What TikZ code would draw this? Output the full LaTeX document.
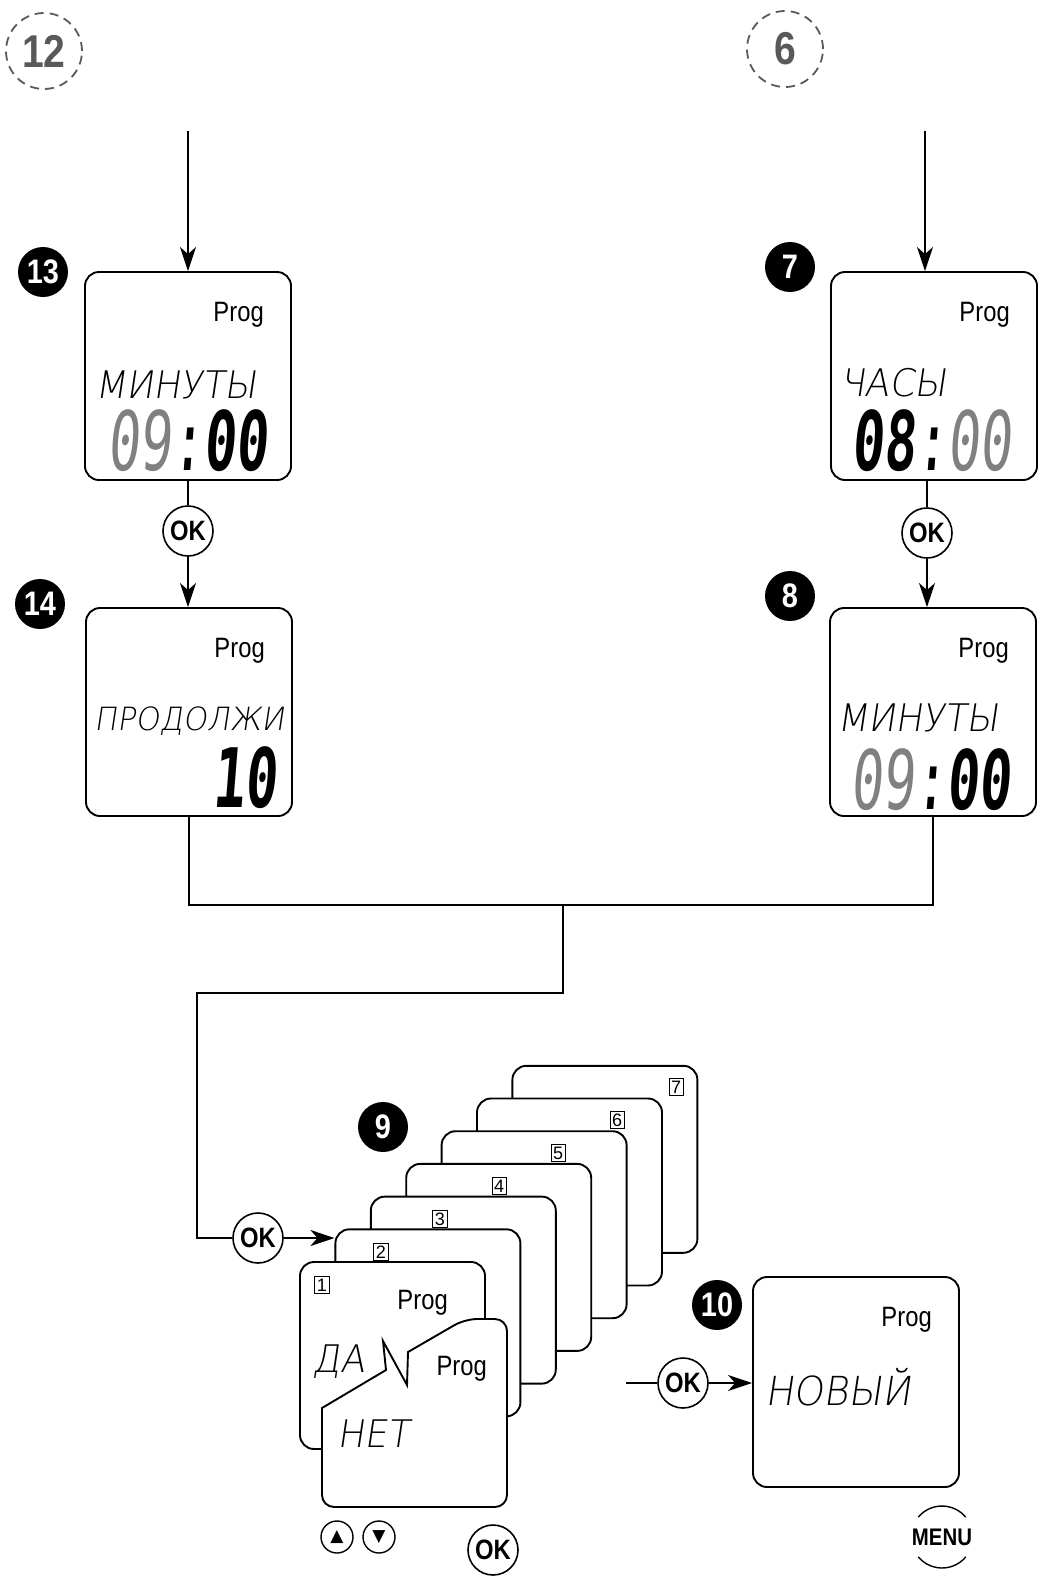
\documentclass[tikz,border=0pt]{standalone}
\usepackage{fontspec}
\setmainfont{Liberation Sans}
\newfontfamily\narrowfont[FakeStretch=0.85]{Liberation Sans}
\newfontfamily\lcdfont[FakeStretch=0.95,FakeSlant=0.15]{DejaVuSans-ExtraLight.ttf}
\newfontfamily\digfont[FakeStretch=0.65,FakeSlant=0.08]{DejaVu Sans Mono}
\newfontfamily\symbfont{DejaVu Sans}
\usetikzlibrary{arrows.meta}
\definecolor{lcdgray}{gray}{0.5}
\definecolor{dashgray}{gray}{0.35}

\begin{document}
\begin{tikzpicture}[x=1pt,y=-1pt,
  lcd/.style={draw,line width=1.9pt,rounded corners=14pt,fill=white,minimum width=206pt,minimum height=208pt,inner sep=0pt},
  card/.style={lcd,minimum width=185pt,minimum height=187pt},
  bullet/.style={circle,fill=black,text=white,minimum size=50pt,inner sep=0pt,font=\narrowfont\bfseries\fontsize{34}{34}\selectfont},
  stepref/.style={circle,draw=dashgray,dash pattern=on 9pt off 6pt,line width=1.8pt,minimum size=76pt,inner sep=0pt,text=dashgray,font=\narrowfont\bfseries\fontsize{46}{46}\selectfont},
  okbtn/.style={circle,draw,line width=1.6pt,fill=white,minimum size=50pt,inner sep=0pt,font=\narrowfont\bfseries\fontsize{28}{28}\selectfont},
  arrowbtn/.style={circle,draw,line width=1.4pt,minimum size=32pt,inner sep=0pt,font=\symbfont\fontsize{17}{17}\selectfont},
  prog/.style={anchor=base east,inner sep=0pt,font=\narrowfont\fontsize{28}{28}\selectfont},
  lcdtext/.style={anchor=base west,inner sep=0pt,font=\lcdfont\fontsize{38}{38}\selectfont},
  digits/.style={anchor=base east,inner sep=0pt,font=\digfont\fontsize{82}{82}\selectfont},
  cardno/.style={draw,line width=1pt,inner sep=2pt,font=\fontsize{18}{18}\selectfont},
  flow/.style={line width=2pt},
  flowarrow/.style={flow,-{Stealth[length=24pt,width=16pt,inset=7pt]}}
]
\useasboundingbox (0,0) rectangle (1041,1585);

% Steps coming in from before
\node[stepref] (s12) at (44,51) {12};
\node[stepref] (s6) at (785,49) {6};
\coordinate (in13) at (188,131);
\coordinate (in7) at (925,131);

% Left column: steps 13 and 14
\node[lcd] (b13) at (188,376) {};
\node[bullet] (n13) at (43,272) {13};
\node[prog] at ([shift={(-28,50)}]b13.north east) {Prog};
\node[lcdtext] (t13) at (95,398) {МИНУТЫ};
\node[digits] (d13) at (268,470) {{\color{lcdgray}09}:{\bfseries 00}};
\node[okbtn] (ok1) at (188,531) {OK};

\node[lcd] (b14) at (189,712) {};
\node[bullet] (n14) at (40,604) {14};
\node[prog] at ([shift={(-28,50)}]b14.north east) {Prog};
\node[lcdtext,font=\lcdfont\fontsize{32}{32}\selectfont] (t14) at (94,730) {ПРОДОЛЖИ};
\node[digits] (d14) at (277,807) {\bfseries 10};

\draw[flowarrow] (in13) -- (in13 |- b13.north);
\draw[flow] (ok1 |- b13.south) -- (ok1);
\draw[flowarrow] (ok1) -- (ok1 |- b14.north);

% Right column: steps 7 and 8
\node[lcd] (b7) at (934,376) {};
\node[bullet] (n7) at (790,267) {7};
\node[prog] at ([shift={(-28,50)}]b7.north east) {Prog};
\node[lcdtext] (t7) at (840,396) {ЧАСЫ};
\node[digits] (d7) at (1012,470) {{\bfseries 08}:{\color{lcdgray}00}};
\node[okbtn] (ok2) at (927,533) {OK};

\node[lcd] (b8) at (933,712) {};
\node[bullet] (n8) at (790,596) {8};
\node[prog] at ([shift={(-28,50)}]b8.north east) {Prog};
\node[lcdtext] (t8) at (837,731) {МИНУТЫ};
\node[digits] (d8) at (1011,809) {{\color{lcdgray}09}:{\bfseries 00}};

\draw[flowarrow] (in7) -- (in7 |- b7.north);
\draw[flow] (ok2 |- b7.south) -- (ok2);
\draw[flowarrow] (ok2) -- (ok2 |- b8.north);

% Both branches join
\coordinate (j) at (563,905);
\coordinate (turn) at (197,993);
\node[okbtn] (ok3) at (258,1238) {OK};
\draw[flow] (b14.south) |- (j) -| (b8.south);
\draw[flow] (j) |- (turn) |- (ok3);

% Step 9: stack of seven days
\node[bullet] (n9) at (383,1127) {9};
\foreach \k in {7,6,...,1} {
  \node[card] (c\k) at ({392.5+35.4*(\k-1)},{1355.5-32.7*(\k-1)}) {};
  \node[cardno] (l\k) at ({322+59*(\k-1)},{1285-33*(\k-1)}) {\k};
}
\draw[flowarrow] (ok3) -- (c2.west |- ok3);
\node[prog] at ([shift={(-38,48)}]c1.north east) {Prog};
\node[lcdtext,font=\lcdfont\fontsize{38}{38}\selectfont] (t9a) at (312,1372) {ДА};
\filldraw[fill=white,line width=1.9pt] (465,1319) [sharp corners] -- (408,1352) -- (407,1385) -- (383,1341) -- (386,1370) -- (322,1408) [rounded corners=12pt] -- (322,1507) -- (507,1507) -- (507,1319) -- cycle;
\node[prog] at (487,1375) {Prog};
\node[lcdtext] (t9b) at (337,1447) {НЕТ};

\node[arrowbtn] (up) at (337,1537) {▲};
\node[arrowbtn] (down) at (379,1537) {▼};
\node[okbtn] (ok5) at (493,1550) {OK};

% Step 10
\node[lcd,minimum height=210pt] (b10) at (856,1382) {};
\node[bullet] (n10) at (717,1305) {10};
\node[prog] at ([shift={(-28,50)}]b10.north east) {Prog};
\node[lcdtext,font=\lcdfont\fontsize{40}{40}\selectfont] (t10) at (765,1405) {НОВЫЙ};
\coordinate (in10) at (626,1383);
\node[okbtn] (ok4) at (683,1383) {OK};
\draw[flow] (in10) -- (ok4);
\draw[flowarrow] (ok4) -- (b10.west |- ok4);

% Menu key
\node[inner sep=0pt,font=\narrowfont\bfseries\fontsize{24}{24}\selectfont] (menu) at (942,1537) {MENU};
\draw[line width=1.4pt] ([shift={(40:31)}]menu.center) arc[start angle=40,end angle=140,radius=31];
\draw[line width=1.4pt] ([shift={(220:31)}]menu.center) arc[start angle=220,end angle=320,radius=31];
\end{tikzpicture}
\end{document}
